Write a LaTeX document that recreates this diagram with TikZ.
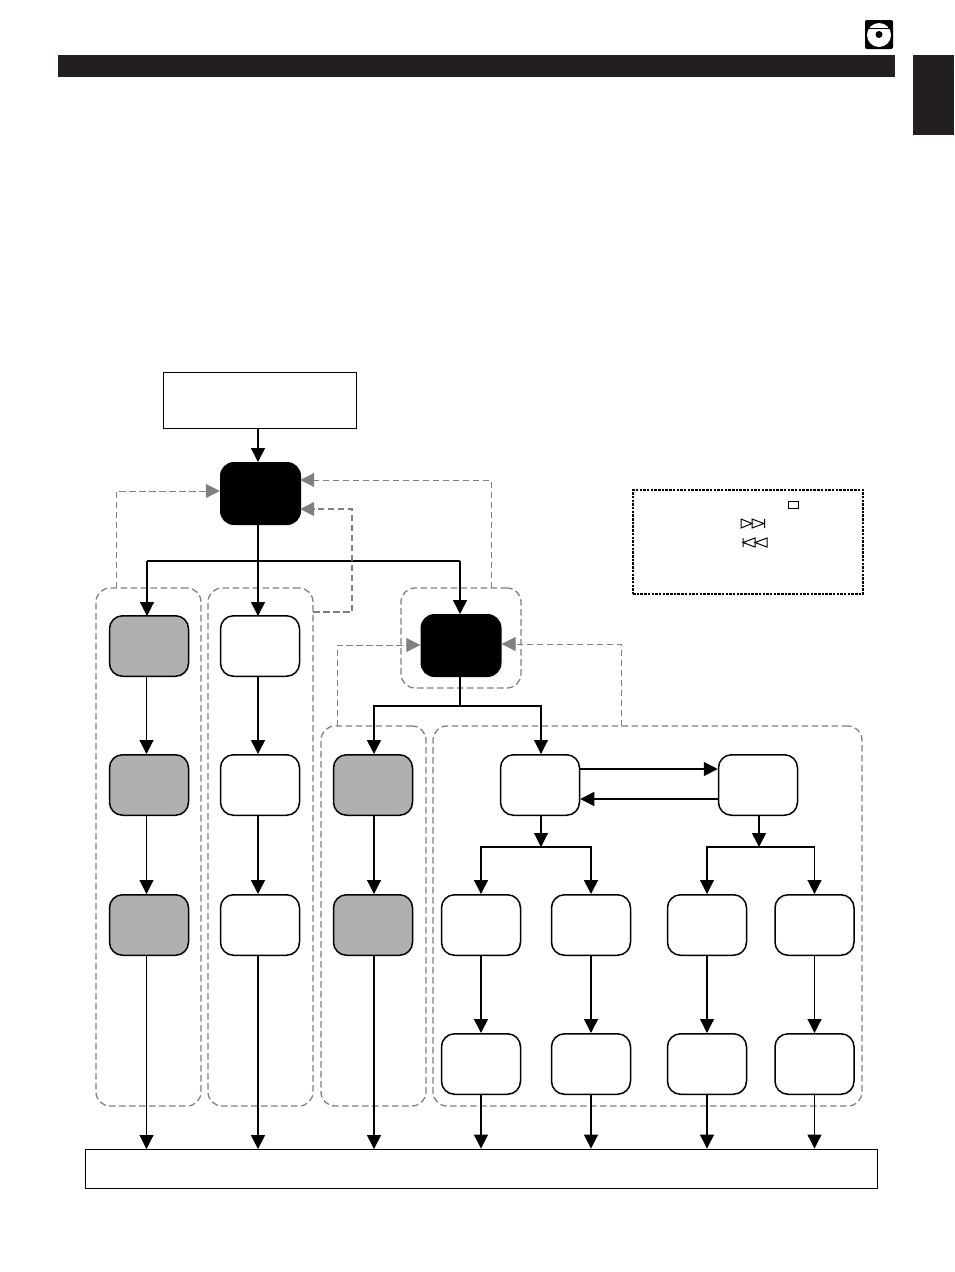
\documentclass[tikz,border=0pt]{standalone}
\usetikzlibrary{arrows.meta, calc}
\definecolor{inkdark}{HTML}{231F20}
\definecolor{dashgray}{HTML}{808080}
\definecolor{boxgray}{HTML}{B0B0B0}
\tikzset{
  roundbox/.style={draw=black, line width=1.5pt, rounded corners=13pt, minimum width=79pt, minimum height=60.5pt, fill=white, inner sep=0pt},
  graybox/.style={roundbox, fill=boxgray},
  blackbox/.style={fill=black, rounded corners=14pt, inner sep=0pt, minimum width=81pt, minimum height=63pt},
  groupbox/.style={draw=dashgray, line width=1.3pt, dash pattern=on 6.5pt off 3.5pt, rounded corners=14pt, inner sep=0pt},
  plainbox/.style={draw=black, line width=0.9pt, inner sep=0pt},
  flow/.style={line width=1.6pt, -{Triangle[length=14pt,width=14pt]}},
  thinflow/.style={line width=1.1pt, -{Triangle[length=14pt,width=14pt]}},
  busline/.style={line width=1.6pt},
  thinbus/.style={line width=1.1pt},
  back/.style={draw=dashgray, line width=1.3pt, dash pattern=on 6.5pt off 3.5pt, -{Triangle[length=14pt,width=14pt,fill=dashgray]}},
  thinback/.style={back, line width=1pt},
}
\begin{document}
\begin{tikzpicture}[x=1pt, y=-1pt]
  \useasboundingbox (0,0) rectangle (954,1272);
  % header
  \fill[inkdark] (58,55) rectangle (895,77);
  \fill[inkdark] (913,55) rectangle (954,135);
  \fill[black, rounded corners=2pt] (865,20) rectangle (893,49);
  \fill[white] (879,35) circle (12);
  \draw[black, line width=0.8pt] (867,28.5) -- (891,28.5);
  \fill[black] (879,34.5) circle (3.5);
  % dashed groups
  \node[groupbox, minimum width=105pt, minimum height=518pt] (groupA) at (148.5,847) {};
  \node[groupbox, minimum width=105pt, minimum height=518pt] (groupB) at (260.5,847) {};
  \node[groupbox, minimum width=120pt, minimum height=100pt] (groupC) at (461,638) {};
  \node[groupbox, minimum width=105pt, minimum height=380pt] (groupD) at (373.5,916) {};
  \node[groupbox, minimum width=429pt, minimum height=380pt] (groupE) at (647.5,916) {};
  % boxes
  \node[plainbox, minimum width=193pt, minimum height=56pt] (start) at (259.5,400) {};
  \node[blackbox] (menu) at (260.5,493.5) {};
  \node[blackbox] (submenu) at (461,645.5) {};
  \node[plainbox, minimum width=792pt, minimum height=39pt] (finish) at (481.5,1168.5) {};
  \foreach \name/\ypos in {a/646, b/785, c/925} {
    \node[graybox] (gray\name) at (149,\ypos) {};
    \node[roundbox] (white\name) at (260,\ypos) {};
  }
  \node[graybox] (grayd) at (373,785) {};
  \node[graybox] (graye) at (373,925) {};
  \node[roundbox] (left) at (540,785) {};
  \node[roundbox] (right) at (758,785) {};
  \foreach \name/\xpos in {p/481, q/591, r/707, s/814.5} {
    \node[roundbox] (upper\name) at (\xpos,925) {};
    \node[roundbox] (lower\name) at (\xpos,1064) {};
  }
  % legend
  \node[draw=black, line width=1.2pt, dash pattern=on 2.5pt off 1.2pt, minimum width=230pt, minimum height=104pt, inner sep=0pt] (legend) at (748,542) {};
  \node[draw=black, line width=0.8pt, minimum width=10pt, minimum height=7pt, inner sep=0pt] (stopmark) at (793.5,504.5) {};
  \draw[line width=1pt] (741,519) -- (741,528) -- (752,523.5) -- cycle;
  \draw[line width=1pt] (752,519) -- (752,528) -- (764,523.5) -- cycle (764.5,519) -- (764.5,528);
  \draw[line width=1pt] (743,538) -- (743,547) (743,542.5) -- (755,538) -- (755,547) -- cycle;
  \draw[line width=1pt] (755,542.5) -- (767,538) -- (767,547) -- cycle;
  % arrows from the first box and the bus under it
  \coordinate (busA) at (258,561);
  \coordinate (busAl) at (147,561);
  \coordinate (busAr) at (460,561);
  \coordinate (busB) at (460,706);
  \coordinate (busL) at (541,847);
  \coordinate (busR) at (759,847);
  \draw[flow] (258,428) -- (258,462);
  \draw[busline] (258,525) -- (busA);
  \draw[flow] (busA) -- (258,616);
  \draw[thinbus] (busAl) -- (busAr);
  \draw[thinflow] (busAl) -- (147,616);
  \draw[flow] (busAr) -- (460,614);
  % first column
  \draw[thinflow] (146.5,677) -- (146.5,754);
  \draw[thinflow] (146.5,815) -- (146.5,894);
  \draw[thinflow] (146.5,955) -- (146.5,1149);
  % second column
  \draw[flow] (258,677) -- (258,754);
  \draw[flow] (258,815) -- (258,894);
  \draw[flow] (258,955) -- (258,1149);
  % third column
  \draw[busline] (460,677) -- (busB);
  \draw[flow] (busB) -| (374,754);
  \draw[thinflow] (busB) -| (541,754);
  \draw[thinflow] (374,815) -- (374,894);
  \draw[flow] (374,955) -- (374,1149);
  % between left and right
  \draw[flow] (left.east |- 0,769) -- (right.west |- 0,769);
  \draw[flow] (right.west |- 0,799) -- (left.east |- 0,799);
  \draw[thinflow] (541,815) -- (busL);
  \draw[flow] (759,815) -- (busR);
  \draw[flow] (busL) -| (upperp.north);
  \draw[flow] (busL) -| (upperq.north);
  \draw[thinflow] (busR) -| (upperr.north);
  \draw[thinflow] (busR) -| (uppers.north);
  \draw[flow] (upperp) -- (lowerp);
  \draw[flow] (upperq) -- (lowerq);
  \draw[thinflow] (upperr) -- (lowerr);
  \draw[thinflow] (uppers) -- (lowers);
  \draw[flow] (lowerp.south) -- (lowerp.south |- finish.north);
  \draw[flow] (lowerq.south) -- (lowerq.south |- finish.north);
  \draw[thinflow] (lowerr.south) -- (lowerr.south |- finish.north);
  \draw[thinflow] (lowers.south) -- (lowers.south |- finish.north);
  % dashed returns
  \draw[thinback] (116,588) |- (menu.west |- 0,491);
  \draw[thinback, shorten >=-1pt] (491,588) |- (menu.east |- 0,480);
  \draw[back, shorten >=-1pt] (313,612) -- (352,612) |- (menu.east |- 0,509);
  \draw[thinback] (337,726) |- (submenu.west |- 0,645);
  \draw[thinback] (621,726) |- (submenu.east |- 0,644);
\end{tikzpicture}
\end{document}
